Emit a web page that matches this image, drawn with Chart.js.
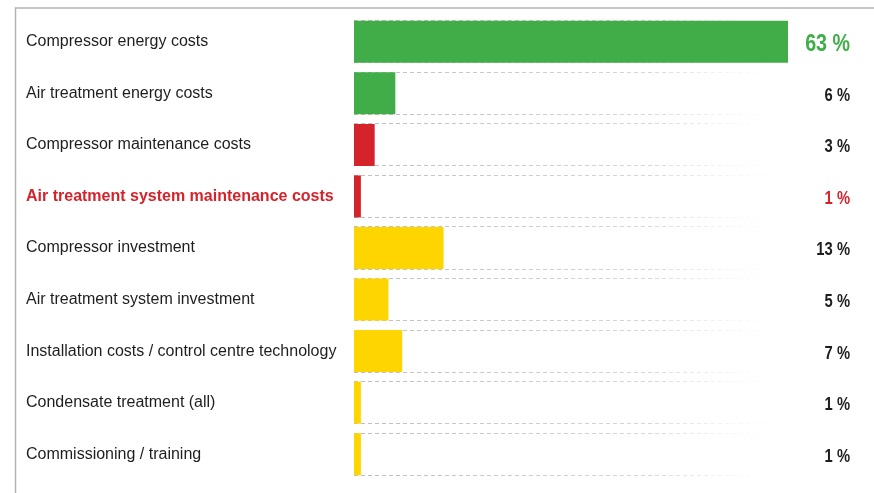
<!DOCTYPE html>
<html>
<head>
<meta charset="utf-8">
<script src="https://cdn.jsdelivr.net/npm/chart.js@4.4.1/dist/chart.umd.min.js"></script>
<style>
    html, body { margin: 0; padding: 0; background: #fff; }
    #wrap { width: 874px; height: 493px; position: relative; }
</style>
</head>
<body>
<div id="wrap"><canvas id="barChart"></canvas></div>
<script>
// cost categories and their share of life-cycle costs (%)
const categories = [
    'Compressor energy costs',
    'Air treatment energy costs',
    'Compressor maintenance costs',
    'Air treatment system maintenance costs',
    'Compressor investment',
    'Air treatment system investment',
    'Installation costs / control centre technology',
    'Condensate treatment (all)',
    'Commissioning / training'
];
const shares = [63, 6, 3, 1, 13, 5, 7, 1, 1];
const valueLabels = ['63 %', '6 %', '3 %', '1 %', '13 %', '5 %', '7 %', '1 %', '1 %'];
const barColors = ['#41ad49', '#41ad49', '#d5232b', '#d5232b', '#ffd500', '#ffd500', '#ffd500', '#ffd500', '#ffd500'];
const highlightIndex = 3;

const GREEN = '#41ad49';
const RED = '#d5232b';
const TEXT = '#1e1e1e';

// frame line top + left
const framePlugin = {
    id: 'frame',
    beforeDraw(chart) {
        const c = chart.ctx;
        c.save();
        c.strokeStyle = '#b3b3b3';
        c.lineWidth = 1.5;
        c.beginPath();
        c.moveTo(874, 8);
        c.lineTo(15.5, 8);
        c.lineTo(15.5, 493);
        c.stroke();
        c.restore();
    }
};

// fading dashed rules at top and bottom of each bar
const rulesPlugin = {
    id: 'rules',
    beforeDatasetsDraw(chart) {
        const c = chart.ctx;
        const meta = chart.getDatasetMeta(0);
        const x0 = chart.scales.x.getPixelForValue(0);
        const x1 = 776;
        const grad = c.createLinearGradient(x0, 0, x1, 0);
        grad.addColorStop(0, 'rgba(190,190,190,1)');
        grad.addColorStop(0.7, 'rgba(205,205,205,0.8)');
        grad.addColorStop(1, 'rgba(240,240,240,0.1)');
        c.save();
        c.strokeStyle = grad;
        c.lineWidth = 1;
        c.setLineDash([4, 3]);
        meta.data.forEach(bar => {
            const h = bar.height / 2;
            [bar.y - h - 0.5, bar.y + h - 0.5].forEach(y => {
                c.beginPath();
                c.moveTo(x0, Math.round(y) + 0.5);
                c.lineTo(x1, Math.round(y) + 0.5);
                c.stroke();
            });
        });
        c.restore();
    }
};

// percentage labels at the right (condensed look via horizontal scale)
const valuePlugin = {
    id: 'values',
    afterDatasetsDraw(chart) {
        const c = chart.ctx;
        const meta = chart.getDatasetMeta(0);
        const xr = chart.chartArea.right + 62;
        const squeeze = 0.82;
        c.save();
        c.textAlign = 'right';
        c.textBaseline = 'middle';
        meta.data.forEach((bar, i) => {
            if (i === 0) {
                c.font = 'bold 24px "Liberation Sans", Arial, sans-serif';
                c.fillStyle = GREEN;
            } else {
                c.font = 'bold 18px "Liberation Sans", Arial, sans-serif';
                c.fillStyle = i === highlightIndex ? RED : TEXT;
            }
            c.save();
            c.translate(xr, bar.y + 2.5);
            c.scale(squeeze, 1);
            c.fillText(valueLabels[i], 0, 0);
            c.restore();
        });
        c.restore();
    }
};

const config = {
    type: 'bar',
    data: {
        labels: categories,
        datasets: [
            {
                data: shares,
                backgroundColor: barColors,
                borderWidth: 0,
                barPercentage: 0.815,
                categoryPercentage: 1
            }
        ]
    },
    options: {
        indexAxis: 'y',
        responsive: true,
        maintainAspectRatio: false,
        animation: false,
        layout: {
            padding: { left: 26, right: 86, top: 16, bottom: 13 }
        },
        scales: {
            x: {
                display: false,
                min: 0,
                max: 63
            },
            y: {
                grid: { display: false },
                border: { display: false },
                afterFit(scale) { scale.width = 354 - 26; },
                ticks: {
                    crossAlign: 'far',
                    padding: 0,
                    color: ctx => ctx.index === highlightIndex ? RED : TEXT,
                    font: ctx => ({
                        family: '"Liberation Sans", Arial, sans-serif',
                        size: 16,
                        weight: ctx.index === highlightIndex ? 'bold' : 'normal'
                    })
                }
            }
        },
        plugins: {
            legend: { display: false },
            tooltip: { enabled: false },
            title: { display: false }
        }
    },
    plugins: [framePlugin, rulesPlugin, valuePlugin]
};
var ctx = document.getElementById('barChart').getContext('2d');
var barChart = new Chart(ctx, config);
</script>
</body>
</html>
